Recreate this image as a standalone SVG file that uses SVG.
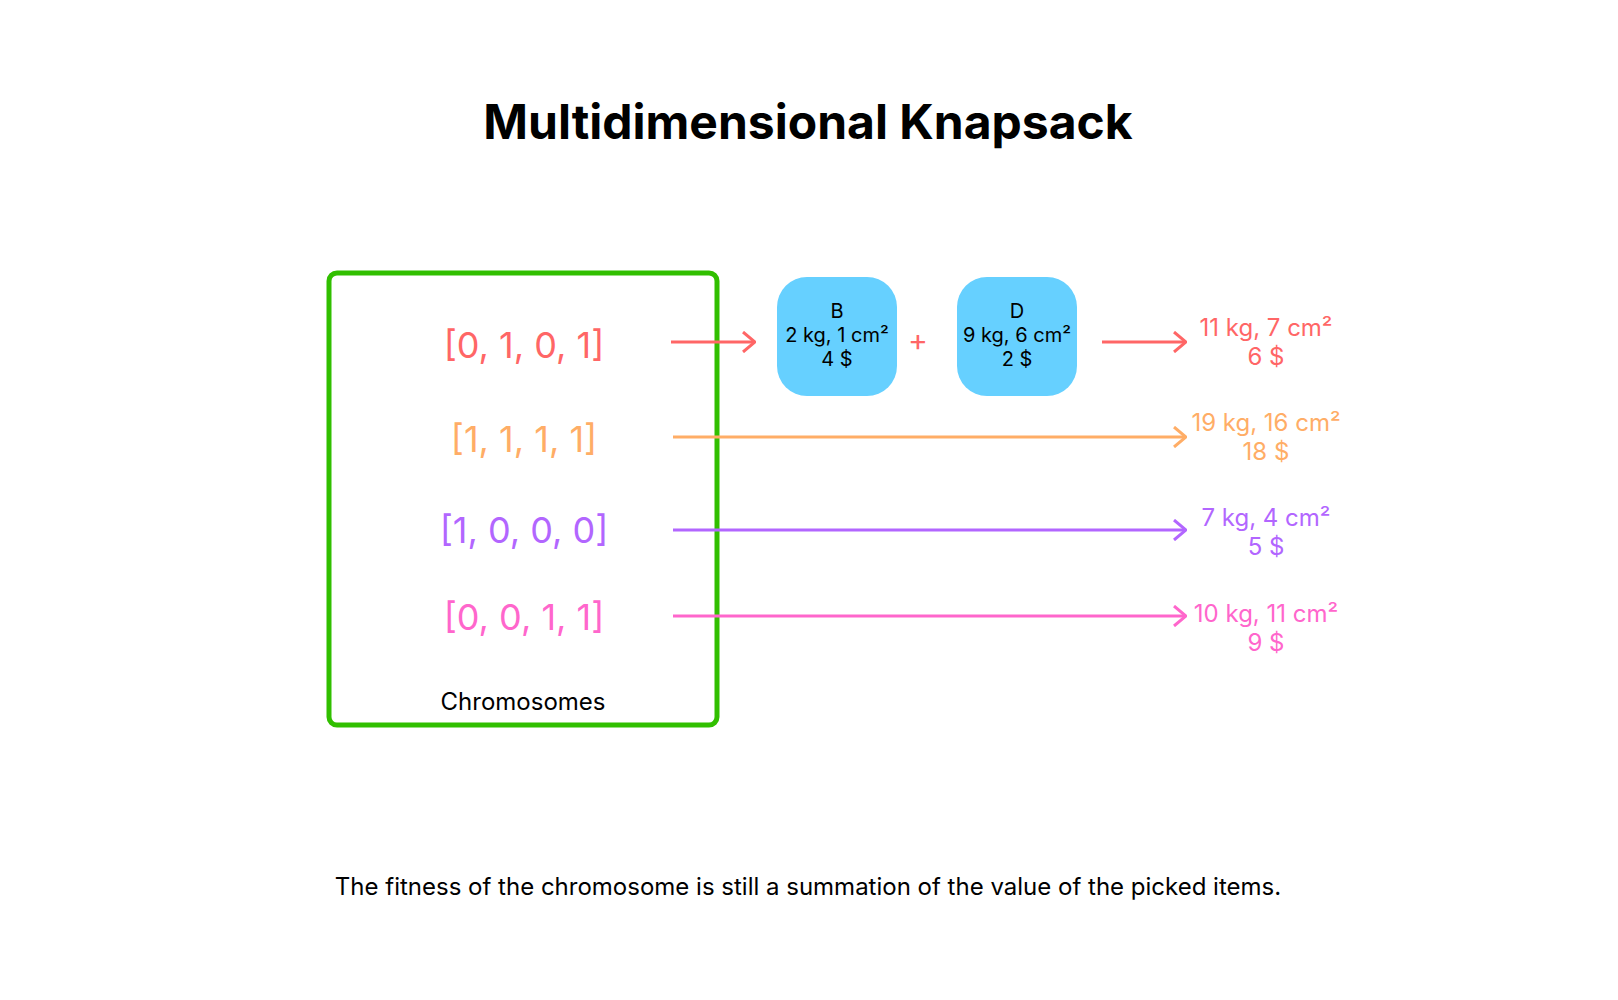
<svg xmlns="http://www.w3.org/2000/svg" width="1618" height="1000" viewBox="0 0 1618 1000">
<defs>
<style>
text{font-family:Inter,"Noto Sans","Liberation Sans",sans-serif;text-anchor:middle}
.title{font-size:48px;font-weight:700;fill:#000}
.chrom{font-size:36px}
.lbl{font-size:24px}
.item{font-size:20px;fill:#000}
.red{fill:#ff6666}.orange{fill:#ffad66}.purple{fill:#b266ff}.pink{fill:#ff66cc}
.conn{stroke-width:3;fill:none}
</style>
<marker id="aR" viewBox="0 0 14 22" refX="13" refY="11" markerWidth="14" markerHeight="22" markerUnits="userSpaceOnUse" orient="auto"><path d="M1,1 L13,11 L1,21" fill="none" stroke="#ff6666" stroke-width="3"/></marker>
<marker id="aO" viewBox="0 0 14 22" refX="13" refY="11" markerWidth="14" markerHeight="22" markerUnits="userSpaceOnUse" orient="auto"><path d="M1,1 L13,11 L1,21" fill="none" stroke="#ffad66" stroke-width="3"/></marker>
<marker id="aP" viewBox="0 0 14 22" refX="13" refY="11" markerWidth="14" markerHeight="22" markerUnits="userSpaceOnUse" orient="auto"><path d="M1,1 L13,11 L1,21" fill="none" stroke="#b266ff" stroke-width="3"/></marker>
<marker id="aK" viewBox="0 0 14 22" refX="13" refY="11" markerWidth="14" markerHeight="22" markerUnits="userSpaceOnUse" orient="auto"><path d="M1,1 L13,11 L1,21" fill="none" stroke="#ff66cc" stroke-width="3"/></marker>
</defs>
<rect width="1618" height="1000" fill="#fff"/>
<text class="title" x="808" y="139">Multidimensional Knapsack</text>

<g id="chromosomes">
<rect x="329" y="273" width="388" height="452" rx="8" fill="none" stroke="#31bf00" stroke-width="5"/>
<text class="chrom red" x="524" y="358">[0, 1, 0, 1]</text>
<text class="chrom orange" x="524" y="452">[1, 1, 1, 1]</text>
<text class="chrom purple" x="524" y="543">[1, 0, 0, 0]</text>
<text class="chrom pink" x="524" y="630">[0, 0, 1, 1]</text>
<text x="523" y="710" style="font-size:24px;fill:#000">Chromosomes</text>
</g>

<g id="itemB">
<rect x="777" y="277" width="120" height="119" rx="30" fill="#66d0ff"/>
<text class="item" x="837" y="318">B</text>
<text class="item" x="837" y="342">2 kg, 1 cm²</text>
<text class="item" x="837" y="366">4 $</text>
</g>
<text class="red" x="918" y="351" style="font-size:30px">+</text>
<g id="itemD">
<rect x="957" y="277" width="120" height="119" rx="30" fill="#66d0ff"/>
<text class="item" x="1017" y="318">D</text>
<text class="item" x="1017" y="342">9 kg, 6 cm²</text>
<text class="item" x="1017" y="366">2 $</text>
</g>

<g id="result1"><text class="lbl red" x="1266" y="336">11 kg, 7 cm²</text><text class="lbl red" x="1266" y="365">6 $</text></g>
<g id="result2"><text class="lbl orange" x="1266" y="431">19 kg, 16 cm²</text><text class="lbl orange" x="1266" y="460">18 $</text></g>
<g id="result3"><text class="lbl purple" x="1266" y="526">7 kg, 4 cm²</text><text class="lbl purple" x="1266" y="555">5 $</text></g>
<g id="result4"><text class="lbl pink" x="1266" y="622">10 kg, 11 cm²</text><text class="lbl pink" x="1266" y="651">9 $</text></g>

<g id="connectors">
<line class="conn" x1="671" y1="342" x2="755" y2="342" stroke="#ff6666" marker-end="url(#aR)"/>
<line class="conn" x1="1102" y1="342" x2="1186" y2="342" stroke="#ff6666" marker-end="url(#aR)"/>
<line class="conn" x1="673" y1="437" x2="1186" y2="437" stroke="#ffad66" marker-end="url(#aO)"/>
<line class="conn" x1="673" y1="530" x2="1186" y2="530" stroke="#b266ff" marker-end="url(#aP)"/>
<line class="conn" x1="673" y1="616" x2="1186" y2="616" stroke="#ff66cc" marker-end="url(#aK)"/>
</g>

<text x="808" y="895" style="font-size:24px;fill:#000">The fitness of the chromosome is still a summation of the value of the picked items.</text>
</svg>
